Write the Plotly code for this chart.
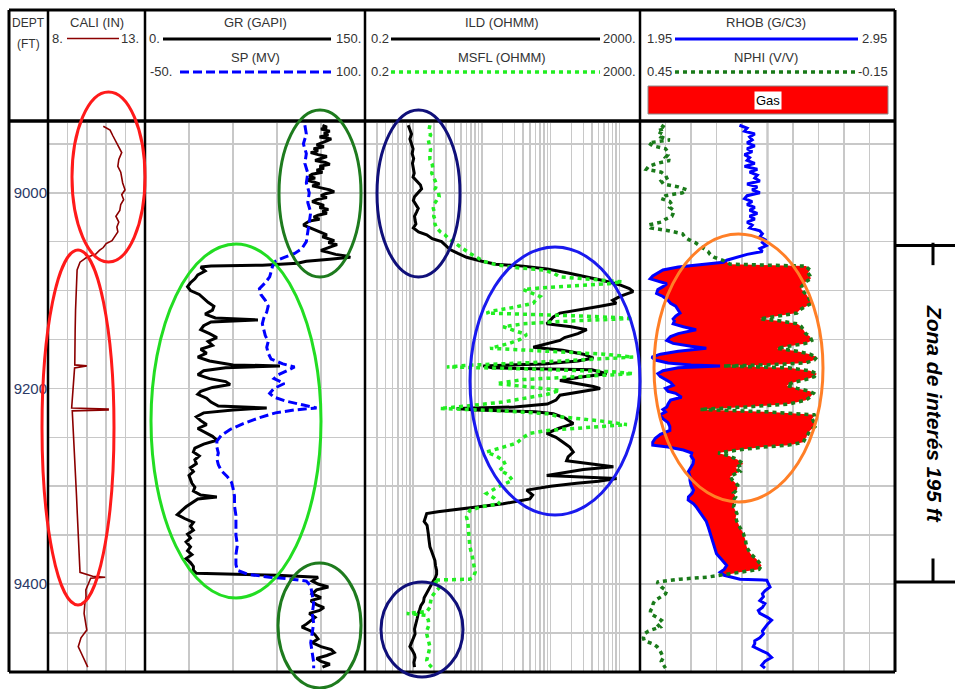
import plotly.graph_objects as go
import numpy as np

W, H = 955, 689
def px(x): return x / W
def py(y): return 1 - y / H

# ---------------- DATA ----------------
CALI_DEPTH = [8932, 8936, 8942, 8949, 8955, 8959, 8966, 8973, 8979, 8984, 8990, 8997, 9002, 9007, 9012, 9018,
              9024, 9030, 9035, 9040, 9045, 9049, 9052, 9056, 9059, 9063, 9066, 9071, 9079, 9090, 9103, 9120,
              9140, 9154, 9168, 9176, 9177, 9179, 9190, 9199, 9210, 9220, 9221, 9222, 9223, 9230, 9250, 9270,
              9294, 9310, 9328, 9345, 9362, 9380, 9388, 9392, 9393, 9394, 9399, 9406, 9413, 9420, 9430, 9440,
              9447, 9455, 9464, 9470, 9475, 9480, 9485]
CALI = [10.85, 11.2, 11.35, 11.55, 11.7, 11.8, 11.65, 11.6, 11.75, 11.8, 11.85, 11.97, 11.8, 11.9, 11.75, 11.7,
        11.5, 11.65, 11.55, 11.6, 11.45, 11.3, 11.0, 10.85, 10.65, 10.45, 10.0, 9.65, 9.5, 9.47, 9.44, 9.42,
        9.4, 9.39, 9.38, 9.38, 10.0, 9.37, 9.33, 9.3, 9.25, 9.22, 11.1, 11.1, 9.25, 9.27, 9.32, 9.38,
        9.44, 9.47, 9.51, 9.55, 9.58, 9.62, 9.65, 10.3, 10.95, 10.2, 10.08, 9.95, 9.96, 9.9, 9.86, 9.95,
        10.0, 9.7, 9.56, 9.7, 9.82, 9.95, 10.05]

GR_DEPTH = [8931, 8933, 8935, 8937, 8939, 8941, 8943, 8945, 8947, 8949, 8951, 8953, 8955, 8957, 8959, 8961,
            8963, 8965, 8967, 8969, 8971, 8973, 8975, 8977, 8979, 8981, 8983, 8985, 8987, 8989, 8991, 8993,
            8995, 8997, 8999, 9001, 9003, 9005, 9007, 9009, 9011, 9013, 9015, 9017, 9019, 9021, 9023, 9025,
            9027, 9029, 9031, 9033, 9035, 9037, 9039, 9041, 9043, 9045, 9047, 9049, 9051, 9053, 9055, 9057,
            9059, 9061, 9063, 9065, 9066, 9068, 9070, 9072, 9074, 9075, 9076,
            9080, 9084, 9088, 9092, 9096, 9100,
            9104, 9108, 9112, 9116, 9120, 9124, 9128, 9130, 9132, 9136, 9140, 9144, 9148, 9152, 9156, 9160,
            9164, 9168, 9172, 9176, 9177, 9179, 9182, 9186, 9190, 9193, 9196, 9199, 9203, 9206, 9210, 9214,
            9218, 9220, 9222, 9225, 9229, 9233, 9237, 9241, 9245, 9249, 9253, 9257, 9261, 9265, 9269, 9273,
            9277, 9281, 9285, 9289, 9293, 9297, 9301, 9305, 9309, 9311, 9313, 9317, 9321, 9325, 9329, 9333,
            9337, 9341, 9345, 9349, 9353, 9357, 9362, 9366, 9370, 9374, 9378, 9382, 9386, 9389, 9391, 9393,
            9397, 9400, 9403, 9406, 9410, 9414, 9417, 9421, 9424, 9427, 9430, 9434, 9438, 9441, 9444, 9448,
            9452, 9456, 9460, 9464, 9467, 9470, 9473, 9476, 9479, 9482, 9485]
GR = [121, 124, 120, 126, 122, 125, 119, 127, 124, 120, 117, 122, 115, 118, 113, 118,
      124, 120, 116, 123, 126, 119, 122, 117, 121, 114, 112, 116, 110, 115, 119, 114,
      121, 126, 129, 123, 120, 124, 117, 114, 118, 122, 119, 125, 121, 124, 118, 115,
      119, 112, 110, 108, 111, 114, 117, 120, 124, 121, 126, 129, 125, 131, 127, 123,
      120, 125, 130, 138, 140, 126, 110, 104, 80, 45, 38,
      41, 36, 34, 31, 29, 31,
      37, 40, 43, 47, 46, 41, 48, 77, 45, 40, 38, 44, 49, 43, 46, 38,
      42, 36, 44, 60, 92, 55, 40, 36, 44, 55, 58, 46, 38, 36, 42, 45,
      50, 83, 60, 40, 35, 38, 42, 36, 41, 46, 49, 40, 34, 33, 37, 34,
      35, 31, 33, 30, 31, 32, 34, 33, 38, 49, 36, 32, 28, 25, 22, 27,
      33, 31, 33, 29, 31, 28, 31, 29, 32, 28, 31, 33, 33, 35, 90, 118,
      114, 118, 125, 117, 114, 120, 113, 117, 122, 119, 112, 116, 113, 110, 107, 113,
      116, 118, 114, 120, 127, 129, 124, 117, 120, 126, 121]

SP_DEPTH = [8931, 8940, 8950, 8960, 8970, 8980, 8990, 9000, 9010, 9020, 9030, 9040, 9050, 9057, 9062, 9066,
            9070, 9075, 9080, 9086, 9092, 9098, 9104, 9110, 9116, 9122, 9128, 9134, 9140, 9146, 9152, 9158,
            9164, 9170, 9175, 9178, 9181, 9186, 9190, 9195, 9200, 9205, 9209, 9213, 9217, 9220, 9222, 9225,
            9230, 9236, 9242, 9248, 9254, 9260, 9266, 9272, 9278, 9284, 9290, 9296, 9302, 9310, 9320, 9330,
            9340, 9350, 9360, 9370, 9380, 9386, 9390, 9393, 9395, 9397, 9402, 9410, 9420, 9430, 9440, 9450,
            9460, 9470, 9480, 9486]
SP = [59, 60, 58, 60, 59, 61, 60, 62, 61, 63, 62, 61, 60, 57, 52, 45,
      39, 37, 36, 35, 32, 28, 29, 32, 34, 33, 31, 30, 31, 32, 34, 33,
      34, 36, 44, 52, 48, 41, 38, 45, 38, 35, 38, 46, 58, 67, 52, 39,
      28, 17, 8, 2, -1, -1, 0, -1, 0, 2, 6, 9, 10, 11, 11, 12,
      12, 12, 13, 12, 12, 13, 20, 35, 50, 60, 63, 64, 65, 64, 65, 64,
      63, 64, 65, 65]

ILD_DEPTH = [8931, 8935, 8940, 8945, 8950, 8955, 8960, 8965, 8970, 8975, 8980, 8984, 8988, 8992, 8996, 9000,
             9004, 9008, 9012, 9016, 9020, 9024, 9028, 9032, 9036, 9040, 9043, 9047, 9050, 9054, 9058, 9062,
             9066, 9070, 9073, 9075, 9078, 9082, 9086, 9090, 9094, 9098, 9101, 9104, 9106, 9110, 9113, 9116,
             9119, 9123, 9127, 9131, 9134, 9137, 9140, 9144, 9148, 9151, 9155, 9158, 9161, 9165, 9169, 9172,
             9175, 9177, 9179, 9181, 9185, 9188, 9192, 9195, 9198, 9200, 9203, 9207, 9212, 9216, 9219, 9220.5,
             9222, 9224, 9226, 9230, 9236, 9241, 9246, 9250, 9255, 9260, 9265, 9270, 9274, 9277, 9280, 9283,
             9287, 9289, 9292, 9295, 9297, 9300, 9304, 9309, 9313, 9316, 9318, 9321, 9323, 9326, 9328, 9332,
             9336, 9340, 9345, 9349, 9354, 9358, 9362, 9366, 9371, 9376, 9381, 9386, 9390, 9394, 9397, 9402,
             9406, 9410, 9414, 9418, 9422, 9426, 9430, 9435, 9440, 9446, 9451, 9456, 9460, 9464, 9468, 9472,
             9475, 9480, 9485]
ILD = [0.85, 0.9, 0.95, 0.9, 0.96, 1.0, 0.97, 1.02, 0.98, 1.0, 1.04, 1.0, 1.15, 1.28, 1.33, 1.2,
       1.05, 1.01, 1.1, 1.19, 1.12, 1.05, 1.07, 1.1, 1.01, 1.2, 1.58, 1.9, 2.6, 3.0, 3.45, 4.5,
       6.0, 10, 16, 40, 90, 180, 336, 600, 1000, 1400, 1590, 1200, 1025, 800, 900, 525,
       300, 137, 110, 95, 88, 200, 336, 250, 160, 137, 80, 56, 150, 300, 420, 250,
       80, 10.5, 14, 400, 655, 300, 137, 250, 420, 525, 300, 137, 120, 90, 30, 4.3,
       8, 60, 110, 160, 214, 130, 88, 120, 152, 190, 214, 180, 171, 400, 820, 300,
       120, 88, 914, 500, 240, 100, 45, 55, 50, 30, 20.5, 9, 4.8, 2.3, 1.58, 1.5,
       1.45, 1.6, 1.62, 1.67, 1.7, 1.72, 1.76, 1.85, 1.95, 2.08, 2.12, 2.2, 2.2, 2.1, 1.97, 1.8,
       1.7, 1.58, 1.45, 1.42, 1.3, 1.25, 1.19, 1.15, 1.1, 1.05, 1.07, 1.0, 0.93, 0.9, 0.98, 1.05,
       1.07, 1.03, 1.05]

MSFL_DEPTH = [8931, 8936, 8941, 8946, 8951, 8956, 8961, 8966, 8971, 8976, 8980, 8984, 8988, 8992, 8996, 9000,
              9004, 9008, 9012, 9016, 9020, 9024, 9028, 9032, 9036, 9040, 9043, 9047, 9050, 9054, 9058, 9062,
              9066, 9070, 9073, 9076, 9079, 9082, 9086, 9089, 9091, 9093, 9095, 9097, 9099, 9103, 9106, 9109,
              9113, 9117, 9121, 9123, 9126, 9128.5, 9131, 9134, 9137, 9141, 9145, 9150, 9154, 9159, 9162, 9165,
              9168, 9171, 9174, 9176, 9178, 9180, 9183, 9185, 9188, 9191, 9195, 9199, 9202, 9206, 9210, 9214,
              9218, 9220.5, 9223, 9226, 9229, 9233, 9237, 9240, 9243, 9246, 9250, 9256, 9261, 9265, 9269, 9273.5,
              9278, 9283.7, 9288, 9294, 9300, 9304, 9307.5, 9312, 9317.8, 9321, 9324.6, 9331.5, 9338, 9345, 9352, 9362,
              9370, 9377.5, 9384, 9388, 9393, 9395, 9396, 9400, 9403, 9408, 9413, 9418, 9424, 9428, 9430, 9432,
              9437, 9442, 9447, 9451, 9456, 9460, 9464, 9469, 9474, 9478, 9482, 9485]
MSFL = [1.76, 1.7, 1.8, 1.67, 1.72, 1.8, 1.75, 1.76, 1.9, 1.95, 1.87, 2.0, 2.1, 2.2, 2.1, 2.34,
        2.4, 2.2, 2.0, 1.97, 2.05, 2.0, 2.1, 2.08, 2.2, 2.5, 2.9, 3.3, 3.8, 4.55, 5.4, 6.7,
        8.5, 10.5, 15, 25.7, 78, 110, 137, 420, 1100, 700, 200, 80, 40, 55, 70, 62,
        56, 30, 14, 11.7, 300, 1590, 200, 40, 20.5, 30, 45, 36, 25, 13.2, 100, 600,
        1590, 300, 40, 8, 3.1, 40, 800, 1590, 200, 40, 16.5, 60, 137, 90, 40, 20,
        6, 2.46, 20, 90, 137, 500, 1290, 300, 90, 50, 40, 32, 18, 11.7, 16, 20.5,
        22, 18.2, 24, 28, 18, 14, 11.7, 15, 18.2, 10, 6.7, 6.0, 6.3, 6.4, 6.5, 6.7,
        7.2, 7.5, 7.9, 8.0, 7.5, 6.7, 1.97, 2.2, 2.46, 2.1, 1.87, 1.8, 1.75, 1.6, 0.81, 1.55,
        1.67, 1.7, 1.6, 1.58, 1.65, 1.72, 1.76, 1.7, 1.62, 1.58, 1.7, 1.87]

DEN_DEPTH = [8931, 8934, 8937, 8940, 8943, 8946, 8949, 8952, 8955, 8958, 8961, 8964, 8967, 8970, 8973, 8976,
             8979, 8982, 8985, 8988, 8991, 8994, 8997, 9000, 9003, 9006, 9009, 9012, 9015, 9018, 9021, 9024,
             9027, 9030, 9033, 9036, 9039, 9042, 9045, 9048, 9051, 9054, 9057, 9060, 9063, 9066, 9069, 9071,
             9073, 9075, 9076, 9079, 9082, 9085, 9088, 9091,
             9093, 9096, 9099, 9103, 9106, 9110, 9113, 9116, 9120, 9123, 9126, 9129, 9131, 9134, 9137, 9140,
             9144, 9147, 9151, 9154, 9157, 9159, 9162, 9165, 9168, 9171, 9174, 9176, 9177, 9179, 9182, 9185,
             9188, 9191, 9194, 9197, 9200, 9203, 9205, 9209, 9212, 9216, 9219, 9221.5, 9224, 9227, 9231, 9235,
             9239, 9243, 9247, 9251, 9255, 9258, 9260, 9263, 9266, 9269, 9273, 9277, 9281, 9285, 9290, 9294,
             9299, 9304, 9307, 9311, 9314, 9318, 9321, 9325, 9328, 9332, 9336, 9342, 9348, 9355, 9362, 9369,
             9375, 9381, 9385, 9388, 9391, 9393, 9395, 9396, 9398, 9403, 9407, 9410, 9413, 9417, 9420, 9424,
             9427, 9430, 9434, 9437, 9441, 9444, 9448, 9451, 9455, 9458, 9461, 9464, 9468, 9471, 9475, 9479,
             9483, 9486]
RHOB = [2.34, 2.37, 2.36, 2.40, 2.38, 2.39, 2.37, 2.40, 2.37, 2.39, 2.36, 2.38, 2.37, 2.40, 2.36, 2.41,
        2.38, 2.41, 2.40, 2.42, 2.37, 2.41, 2.39, 2.42, 2.37, 2.36, 2.39, 2.37, 2.40, 2.38, 2.41, 2.38,
        2.40, 2.37, 2.39, 2.38, 2.42, 2.43, 2.42, 2.44, 2.43, 2.445, 2.42, 2.43, 2.37, 2.33, 2.29, 2.277,
        2.20, 2.133, 2.10, 2.04, 2.02, 2.00, 1.99, 2.03,
        2.055, 2.04, 2.02, 2.015, 2.04, 2.06, 2.07, 2.09, 2.10, 2.107, 2.09, 2.08, 2.085, 2.08, 2.12, 2.17,
        2.10, 2.07, 2.055, 2.08, 2.15, 2.21, 2.10, 2.03, 1.996, 2.01, 2.06, 2.15, 2.264, 2.10, 2.04, 2.02,
        2.03, 2.05, 2.07, 2.08, 2.05, 2.06, 2.09, 2.113, 2.07, 2.06, 2.055, 2.04, 2.05, 2.03, 2.04, 2.06,
        2.067, 2.067, 2.03, 2.01, 2.00, 2.00, 2.06, 2.12, 2.153, 2.15, 2.16, 2.158, 2.15, 2.14, 2.146, 2.146,
        2.15, 2.16, 2.155, 2.14, 2.139, 2.16, 2.17, 2.18, 2.19, 2.20, 2.21, 2.218, 2.225, 2.231, 2.24, 2.25,
        2.27, 2.29, 2.28, 2.264, 2.28, 2.31, 2.342, 2.447, 2.45, 2.46, 2.44, 2.43, 2.434, 2.42, 2.44, 2.43,
        2.414, 2.42, 2.45, 2.466, 2.45, 2.44, 2.43, 2.434, 2.42, 2.40, 2.40, 2.394, 2.43, 2.45, 2.466, 2.44,
        2.427, 2.44]
NPHI = [0.40, 0.39, 0.41, 0.395, 0.40, 0.38, 0.43, 0.42, 0.39, 0.385, 0.384, 0.39, 0.38, 0.41, 0.43, 0.435,
        0.40, 0.39, 0.387, 0.40, 0.395, 0.36, 0.34, 0.35, 0.39, 0.40, 0.38, 0.375, 0.38, 0.37, 0.372, 0.375,
        0.39, 0.40, 0.43, 0.425, 0.38, 0.35, 0.345, 0.335, 0.32, 0.31, 0.30, 0.29, 0.285, 0.275, 0.255, 0.245,
        0.238, 0.058, 0.058, 0.05, 0.055, 0.05, 0.048, 0.06,
        0.065, 0.07, 0.07, 0.06, 0.055, 0.05, 0.046, 0.06, 0.075, 0.081, 0.12, 0.168, 0.12, 0.08, 0.07, 0.066,
        0.06, 0.05, 0.046, 0.06, 0.10, 0.128, 0.08, 0.05, 0.034, 0.04, 0.06, 0.15, 0.254, 0.10, 0.05, 0.034,
        0.04, 0.06, 0.09, 0.105, 0.08, 0.05, 0.042, 0.05, 0.06, 0.10, 0.20, 0.309, 0.15, 0.038, 0.045, 0.04,
        0.038, 0.05, 0.055, 0.06, 0.066, 0.10, 0.16, 0.22, 0.266, 0.24, 0.22, 0.207, 0.225, 0.215, 0.238, 0.232,
        0.22, 0.222, 0.23, 0.225, 0.23, 0.228, 0.23, 0.225, 0.222, 0.225, 0.222, 0.215, 0.207, 0.202, 0.199, 0.19,
        0.175, 0.164, 0.17, 0.215, 0.26, 0.293, 0.356, 0.38, 0.41, 0.40, 0.387, 0.39, 0.40, 0.415, 0.419, 0.42,
        0.425, 0.426, 0.41, 0.40, 0.41, 0.403, 0.43, 0.44, 0.442, 0.44, 0.42, 0.41, 0.403, 0.40, 0.395, 0.40,
        0.395, 0.39]

DEPTH_TICKS = [9000, 9200, 9400]
ZONE_TOP, ZONE_BASE = 9054, 9398
ZONE_LABEL = "Zona de interés 195 ft"

# track scales
CALI_RANGE = [8, 13]
GR_RANGE = [0, 150]
SP_RANGE = [-50, 100]
RES_RANGE = [0.2, 2000]
RHOB_RANGE = [1.95, 2.95]
NPHI_RANGE = [0.45, -0.15]
DEPTH_RANGE = [9489.4, 8928.7]

# ---------------- FIGURE ----------------
FONT = "Arial, Liberation Sans, sans-serif"
GRID = "#c8c8c8"
fig = go.Figure()

# gas fill: NPHI expressed on RHOB scale, filled where it crosses over
rh = np.array(RHOB)
nphi_on_rhob = RHOB_RANGE[0] + (NPHI_RANGE[0] - np.array(NPHI)) / (NPHI_RANGE[0] - NPHI_RANGE[1]) * (RHOB_RANGE[1] - RHOB_RANGE[0])
edge = np.maximum(nphi_on_rhob, rh)
fig.add_trace(go.Scatter(x=list(rh) + list(edge[::-1]), y=DEN_DEPTH + DEN_DEPTH[::-1],
                         xaxis="x5", yaxis="y", mode="lines", fill="toself", fillcolor="#ff0000",
                         line=dict(width=0, color="#ff0000"), hoverinfo="skip"))

fig.add_trace(go.Scatter(x=CALI, y=CALI_DEPTH, xaxis="x", yaxis="y", mode="lines",
                         line=dict(color="#8b0000", width=1.6)))
fig.add_trace(go.Scatter(x=GR, y=GR_DEPTH, xaxis="x2", yaxis="y", mode="lines",
                         line=dict(color="black", width=3)))
fig.add_trace(go.Scatter(x=SP, y=SP_DEPTH, xaxis="x3", yaxis="y", mode="lines",
                         line=dict(color="#0000ff", width=3, dash="9px,4px")))
fig.add_trace(go.Scatter(x=ILD, y=ILD_DEPTH, xaxis="x4", yaxis="y", mode="lines",
                         line=dict(color="black", width=3)))
fig.add_trace(go.Scatter(x=MSFL, y=MSFL_DEPTH, xaxis="x4", yaxis="y", mode="lines",
                         line=dict(color="#22ee22", width=3.5, dash="4px,4px")))
fig.add_trace(go.Scatter(x=RHOB, y=DEN_DEPTH, xaxis="x5", yaxis="y", mode="lines",
                         line=dict(color="#0000ff", width=3)))
fig.add_trace(go.Scatter(x=NPHI, y=DEN_DEPTH, xaxis="x6", yaxis="y", mode="lines",
                         line=dict(color="#1a7a1a", width=3.5, dash="4px,4px")))

ydom = [py(671.5), py(123)]
common = dict(showticklabels=False, ticks="", zeroline=False, showline=False,
              gridcolor=GRID, gridwidth=1.5)
res_grid = []
for p in [0.1, 1, 10, 100, 1000]:
    for k in range(1, 10):
        v = round(k * p, 6)
        if 0.2 <= v <= 2000:
            res_grid.append(v)

fig.update_layout(
    width=W, height=H, margin=dict(l=0, r=0, t=0, b=0), autosize=False,
    paper_bgcolor="white", plot_bgcolor="white", showlegend=False,
    xaxis=dict(domain=[px(48), px(145)], range=CALI_RANGE, dtick=1, anchor="y", showgrid=True, **common),
    xaxis2=dict(domain=[px(145), px(365)], range=GR_RANGE, dtick=30, anchor="y", showgrid=True, **common),
    xaxis3=dict(range=SP_RANGE, overlaying="x2", anchor="y", showgrid=False, **common),
    xaxis4=dict(domain=[px(365), px(640)], type="log", range=[np.log10(RES_RANGE[0]), np.log10(RES_RANGE[1])],
                tickvals=res_grid, anchor="y", showgrid=True, **common),
    xaxis5=dict(domain=[px(640), px(895)], range=RHOB_RANGE, tick0=1.95, dtick=0.1, anchor="y", showgrid=True, **common),
    xaxis6=dict(range=NPHI_RANGE, overlaying="x5", anchor="y", showgrid=False, **common),
    yaxis=dict(domain=ydom, range=DEPTH_RANGE, anchor="x", tickvals=DEPTH_TICKS, ticks="",
               showgrid=True, gridcolor=GRID, gridwidth=1.5, zeroline=False, showline=False,
               minor=dict(dtick=50, tick0=8950, showgrid=True, gridcolor=GRID, gridwidth=1.5),
               tickfont=dict(family=FONT, size=15, color="#2b3a67"), ticklabelstandoff=0),
)

shapes = []
def pline(x0, y0, x1, y1, color="black", width=2.5, dash=None):
    shapes.append(dict(type="line", xref="paper", yref="paper", x0=px(x0), y0=py(y0), x1=px(x1), y1=py(y1),
                       line=dict(color=color, width=width, dash=dash)))

# RHOB track central grid line (slightly heavier)
shapes.append(dict(type="line", xref="x5", yref="paper", x0=2.45, x1=2.45, y0=ydom[0], y1=ydom[1],
                   line=dict(color="#b0b0b0", width=2), layer="below"))

# frame
pline(9, 10, 895, 10, width=3)
pline(9, 672, 895, 672, width=3)
pline(9, 10, 9, 672, width=3)
pline(895, 10, 895, 672, width=3)
for xs in [48, 145, 365, 640]:
    pline(xs, 10, xs, 672, width=2.5)
pline(9, 121, 895, 121, width=3.5)

# header legend lines
pline(67, 38.5, 119, 38.5, color="#8b0000", width=1.5)
pline(163, 39, 331, 39, color="black", width=3)
pline(180, 72, 331, 72, color="#0000ff", width=3, dash="9px,4px")
pline(391, 39, 600, 39, color="black", width=3)
pline(391, 72, 600, 72, color="#22ee22", width=3.5, dash="4px,4px")
pline(675, 39, 858, 39, color="#0000ff", width=3)
pline(675, 72, 858, 72, color="#1a7a1a", width=3.5, dash="4px,4px")
shapes.append(dict(type="rect", xref="paper", yref="paper", x0=px(648), x1=px(888), y0=py(114), y1=py(86),
                   fillcolor="#ff0000", line=dict(color="#8a8a8a", width=1)))

# ellipses
def ell(x0, y0, x1, y1, color):
    shapes.append(dict(type="circle", xref="paper", yref="paper", x0=px(x0), x1=px(x1), y0=py(y1), y1=py(y0),
                       line=dict(color=color, width=3)))
ell(72, 92, 145, 262, "#ff1a1a")
ell(42, 250, 114, 605, "#ff1a1a")
ell(151, 244, 321, 598, "#22dd22")
ell(279, 110, 361, 277, "#1e7b1e")
ell(278, 563, 361, 688, "#1e7b1e")
ell(377, 110, 460, 277, "#10107a")
ell(470, 247, 640, 515, "#1a1aee")
ell(381, 582, 463, 677, "#10107a")
ell(654, 234, 823, 502, "#ff7f27")

# zone bracket
for d in [ZONE_TOP, ZONE_BASE]:
    shapes.append(dict(type="line", xref="paper", yref="y", x0=px(895), x1=1, y0=d, y1=d,
                       line=dict(color="black", width=3)))
shapes.append(dict(type="line", xref="paper", yref="y", x0=px(933), x1=px(933), y0=ZONE_TOP - 3, y1=ZONE_TOP + 20,
                   line=dict(color="black", width=3)))
shapes.append(dict(type="line", xref="paper", yref="y", x0=px(933), x1=px(933), y0=ZONE_BASE - 24, y1=ZONE_BASE,
                   line=dict(color="black", width=3)))
fig.update_layout(shapes=shapes)

ann = []
def txt(x, y, s, size=13, color="#333333", **kw):
    ann.append(dict(xref="paper", yref="paper", x=px(x), y=py(y), text=s, showarrow=False,
                    font=dict(family=FONT, size=size, color=color), xanchor="center", yanchor="middle", **kw))

txt(28, 23, "DEPT", size=12)
txt(28, 44, "(FT)", size=12)
txt(97, 23, "CALI (IN)")
txt(57, 39, "8.")
txt(130, 39, "13.")
txt(255, 23, "GR (GAPI)")
txt(154, 39, "0.")
txt(348, 39, "150.")
txt(255, 57, "SP (MV)")
txt(161, 72, "-50.")
txt(348, 72, "100.")
txt(502, 23, "ILD (OHMM)")
txt(380, 39, "0.2")
txt(619, 39, "2000.")
txt(502, 57, "MSFL (OHMM)")
txt(380, 72, "0.2")
txt(619, 72, "2000.")
txt(766, 23, "RHOB (G/C3)")
txt(659, 39, "1.95")
txt(874, 39, "2.95")
txt(766, 57, "NPHI (V/V)")
txt(659, 72, "0.45")
txt(873, 72, "-0.15")
txt(768, 100, "Gas", color="black", bgcolor="white", borderpad=1)
ann.append(dict(xref="paper", yref="y", x=px(934), y=(ZONE_TOP + ZONE_BASE) / 2, text="<b><i>" + ZONE_LABEL + "</i></b>",
                showarrow=False, textangle=90, font=dict(family=FONT, size=21, color="black"),
                xanchor="center", yanchor="middle"))
fig.update_layout(annotations=ann)

# remove the browser's default page margin so the figure sits at the window origin
fig.write_html("out.html", config={"displayModeBar": False, "staticPlot": True},
               post_script="document.body.style.margin='0';document.body.style.overflow='hidden';")
